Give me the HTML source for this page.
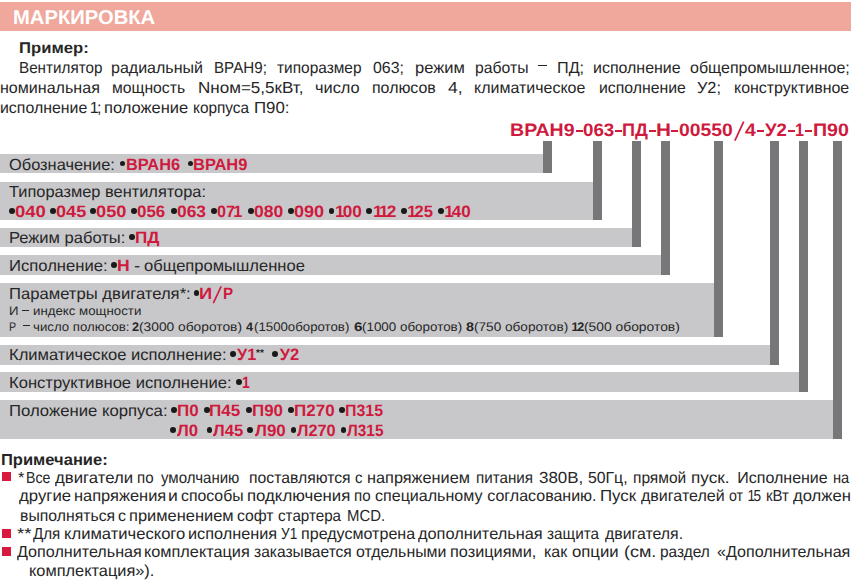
<!DOCTYPE html>
<html lang="ru">
<head>
<meta charset="utf-8">
<title>Маркировка</title>
<style>
html,body{margin:0;padding:0;background:#fff}
body{width:863px;height:587px;position:relative;overflow:hidden;font-family:"Liberation Sans",sans-serif;color:#262626;text-rendering:geometricPrecision}
.r{position:absolute}
.t{position:absolute;line-height:1;white-space:pre;transform-origin:0 0}
.b{font-weight:bold}
i{font-style:normal;margin:0 -0.11em}
</style>
</head>
<body>
<div class="r" style="left:0px;top:2px;width:851px;height:28.7px;background:#f0a79c"></div>
<div class="r" style="left:0px;top:154px;width:543px;height:19.4px;background:#c8c8ca"></div>
<div class="r" style="left:0px;top:181.8px;width:593px;height:38.2px;background:#c8c8ca"></div>
<div class="r" style="left:0px;top:228px;width:632px;height:19.4px;background:#c8c8ca"></div>
<div class="r" style="left:0px;top:255.2px;width:661px;height:19.6px;background:#c8c8ca"></div>
<div class="r" style="left:0px;top:283px;width:714px;height:53.7px;background:#c8c8ca"></div>
<div class="r" style="left:0px;top:345.1px;width:770px;height:19.6px;background:#c8c8ca"></div>
<div class="r" style="left:0px;top:372.3px;width:799px;height:19.7px;background:#c8c8ca"></div>
<div class="r" style="left:0px;top:400.2px;width:833px;height:38.6px;background:#c8c8ca"></div>
<div class="r" style="left:543px;top:140.8px;width:9.1px;height:32.6px;background:#77777a"></div>
<div class="r" style="left:593.1px;top:140.8px;width:9.2px;height:79.2px;background:#77777a"></div>
<div class="r" style="left:632.1px;top:140.8px;width:9.2px;height:106.6px;background:#77777a"></div>
<div class="r" style="left:661.1px;top:140.8px;width:9.2px;height:134px;background:#77777a"></div>
<div class="r" style="left:714px;top:140.8px;width:9.1px;height:195.9px;background:#77777a"></div>
<div class="r" style="left:769.8px;top:140.8px;width:9.1px;height:223.9px;background:#77777a"></div>
<div class="r" style="left:799.1px;top:140.8px;width:9.1px;height:251.2px;background:#77777a"></div>
<div class="r" style="left:833.1px;top:140.8px;width:9px;height:298px;background:#77777a"></div>
<div class="r" style="left:2.2px;top:472.3px;width:8.7px;height:9.2px;background:#d9183d"></div>
<div class="r" style="left:2.2px;top:529px;width:8.7px;height:9.2px;background:#d9183d"></div>
<div class="r" style="left:2.2px;top:547.1px;width:8.7px;height:9.2px;background:#d9183d"></div>
<div class="r" style="left:537.7px;top:65px;width:9.6px;height:1.4px;background:#262626"></div>
<div class="r" style="left:575.5px;top:129.5px;width:7.1px;height:2.1px;background:#cf1a3e"></div>
<div class="r" style="left:614.9px;top:129.5px;width:6.9px;height:2.1px;background:#cf1a3e"></div>
<div class="r" style="left:648.9px;top:129.5px;width:6.7px;height:2.1px;background:#cf1a3e"></div>
<div class="r" style="left:671.3px;top:129.5px;width:6.8px;height:2.1px;background:#cf1a3e"></div>
<div class="r" style="left:757.4px;top:129.5px;width:6.9px;height:2.1px;background:#cf1a3e"></div>
<div class="r" style="left:788.3px;top:129.5px;width:6.6px;height:2.1px;background:#cf1a3e"></div>
<div class="r" style="left:805.4px;top:129.5px;width:6.6px;height:2.1px;background:#cf1a3e"></div>
<div class="r" style="left:21.8px;top:309.5px;width:7px;height:1.3px;background:#262626"></div>
<div class="r" style="left:23px;top:324.7px;width:7px;height:1.3px;background:#262626"></div>
<div class="r" style="left:119.6px;top:160.6px;width:5.8px;height:5.8px;border-radius:50%;background:#1a1a1a"></div>
<div class="r" style="left:187.6px;top:160.6px;width:5.8px;height:5.8px;border-radius:50%;background:#1a1a1a"></div>
<div class="r" style="left:9px;top:207.8px;width:5.8px;height:5.8px;border-radius:50%;background:#1a1a1a"></div>
<div class="r" style="left:50.1px;top:207.8px;width:5.8px;height:5.8px;border-radius:50%;background:#1a1a1a"></div>
<div class="r" style="left:90.4px;top:207.8px;width:5.8px;height:5.8px;border-radius:50%;background:#1a1a1a"></div>
<div class="r" style="left:131.3px;top:207.8px;width:5.8px;height:5.8px;border-radius:50%;background:#1a1a1a"></div>
<div class="r" style="left:171.1px;top:207.8px;width:5.8px;height:5.8px;border-radius:50%;background:#1a1a1a"></div>
<div class="r" style="left:211.3px;top:207.8px;width:5.8px;height:5.8px;border-radius:50%;background:#1a1a1a"></div>
<div class="r" style="left:247.8px;top:207.8px;width:5.8px;height:5.8px;border-radius:50%;background:#1a1a1a"></div>
<div class="r" style="left:288.3px;top:207.8px;width:5.8px;height:5.8px;border-radius:50%;background:#1a1a1a"></div>
<div class="r" style="left:328.7px;top:207.8px;width:5.8px;height:5.8px;border-radius:50%;background:#1a1a1a"></div>
<div class="r" style="left:366.2px;top:207.8px;width:5.8px;height:5.8px;border-radius:50%;background:#1a1a1a"></div>
<div class="r" style="left:401.2px;top:207.8px;width:5.8px;height:5.8px;border-radius:50%;background:#1a1a1a"></div>
<div class="r" style="left:438.3px;top:207.8px;width:5.8px;height:5.8px;border-radius:50%;background:#1a1a1a"></div>
<div class="r" style="left:129.25px;top:234.2px;width:5.8px;height:5.8px;border-radius:50%;background:#1a1a1a"></div>
<div class="r" style="left:111.3px;top:261.8px;width:5.8px;height:5.8px;border-radius:50%;background:#1a1a1a"></div>
<div class="r" style="left:193.6px;top:290.3px;width:5.8px;height:5.8px;border-radius:50%;background:#1a1a1a"></div>
<div class="r" style="left:230.15px;top:350.8px;width:5.8px;height:5.8px;border-radius:50%;background:#1a1a1a"></div>
<div class="r" style="left:272.35px;top:350.8px;width:5.8px;height:5.8px;border-radius:50%;background:#1a1a1a"></div>
<div class="r" style="left:236.1px;top:379.1px;width:5.8px;height:5.8px;border-radius:50%;background:#1a1a1a"></div>
<div class="r" style="left:170.95px;top:407.2px;width:5.8px;height:5.8px;border-radius:50%;background:#1a1a1a"></div>
<div class="r" style="left:203.75px;top:407.2px;width:5.8px;height:5.8px;border-radius:50%;background:#1a1a1a"></div>
<div class="r" style="left:246.05px;top:407.2px;width:5.8px;height:5.8px;border-radius:50%;background:#1a1a1a"></div>
<div class="r" style="left:287.75px;top:407.2px;width:5.8px;height:5.8px;border-radius:50%;background:#1a1a1a"></div>
<div class="r" style="left:339.25px;top:407.2px;width:5.8px;height:5.8px;border-radius:50%;background:#1a1a1a"></div>
<div class="r" style="left:170.45px;top:427px;width:5.8px;height:5.8px;border-radius:50%;background:#1a1a1a"></div>
<div class="r" style="left:206.55px;top:427px;width:5.8px;height:5.8px;border-radius:50%;background:#1a1a1a"></div>
<div class="r" style="left:247.45px;top:427px;width:5.8px;height:5.8px;border-radius:50%;background:#1a1a1a"></div>
<div class="r" style="left:290.55px;top:427px;width:5.8px;height:5.8px;border-radius:50%;background:#1a1a1a"></div>
<div class="r" style="left:340.65px;top:427px;width:5.8px;height:5.8px;border-radius:50%;background:#1a1a1a"></div>
<svg class="r" style="left:0;top:0" width="863" height="587" viewBox="0 0 863 587"><line x1="734.9" y1="140.6" x2="743.7" y2="121.7" stroke="#cf1a3e" stroke-width="1.7"/><line x1="213.3" y1="303.2" x2="221.2" y2="286.3" stroke="#cf1a3e" stroke-width="1.6"/></svg>
<span class="t b" style="left:13.14px;top:8px;font-size:20px;transform:scaleX(1.0101);color:#ffffff">МАРКИРОВКА</span>
<span class="t b" style="left:18.63px;top:41px;font-size:15.5px;transform:scaleX(1.0747)">Пример:</span>
<span class="t" style="left:19.01px;top:61px;font-size:16px;transform:scaleX(0.9516)">Вентилятор</span>
<span class="t" style="left:111px;top:61px;font-size:16px;transform:scaleX(1.0006)">радиальный</span>
<span class="t" style="left:214.42px;top:61px;font-size:16px;transform:scaleX(0.9465)">ВРАН9;</span>
<span class="t" style="left:277.36px;top:61px;font-size:16px;transform:scaleX(0.9648)">типоразмер</span>
<span class="t" style="left:372.76px;top:61px;font-size:16px;transform:scaleX(0.9931)">063;</span>
<span class="t" style="left:415.47px;top:61px;font-size:16px;transform:scaleX(1.0314)">режим</span>
<span class="t" style="left:474.62px;top:61px;font-size:16px;transform:scaleX(0.9837)">работы</span>
<span class="t" style="left:556.73px;top:61px;font-size:16px;transform:scaleX(1.0125)">ПД;</span>
<span class="t" style="left:593.3px;top:61px;font-size:16px;transform:scaleX(0.9971)">исполнение</span>
<span class="t" style="left:689.65px;top:61px;font-size:16px;transform:scaleX(0.9990)">общепромышленное;</span>
<span class="t" style="left:-0.1px;top:81px;font-size:16px;transform:scaleX(1.0036)">номинальная</span>
<span class="t" style="left:111.62px;top:81px;font-size:16px;transform:scaleX(0.9814)">мощность</span>
<span class="t" style="left:198.17px;top:81px;font-size:16px;transform:scaleX(1.0649)">Nном=5,5кВт,</span>
<span class="t" style="left:314.98px;top:81px;font-size:16px;transform:scaleX(1.0238)">число</span>
<span class="t" style="left:371.5px;top:81px;font-size:16px;transform:scaleX(0.9952)">полюсов</span>
<span class="t" style="left:447.73px;top:81px;font-size:16px;transform:scaleX(1.0979)">4,</span>
<span class="t" style="left:474px;top:81px;font-size:16px;transform:scaleX(0.9986)">климатическое</span>
<span class="t" style="left:598.91px;top:81px;font-size:16px;transform:scaleX(0.9890)">исполнение</span>
<span class="t" style="left:697.29px;top:81px;font-size:16px;transform:scaleX(1.0186)">У2;</span>
<span class="t" style="left:734.1px;top:81px;font-size:16px;transform:scaleX(0.9969)">конструктивное</span>
<span class="t" style="left:-0.09px;top:101px;font-size:16px;transform:scaleX(0.9925)">исполнение</span>
<span class="t" style="left:91.5px;top:101px;font-size:16px;transform:scaleX(1.0000)"><i>1</i>;</span>
<span class="t" style="left:104.37px;top:101px;font-size:16px;transform:scaleX(1.0300)">положение</span>
<span class="t" style="left:193.04px;top:101px;font-size:16px;transform:scaleX(0.9607)">корпуса</span>
<span class="t" style="left:253.69px;top:101px;font-size:16px;transform:scaleX(1.0516)">П90:</span>
<span class="t b" style="left:509.94px;top:121px;font-size:18px;transform:scaleX(1.0870);color:#cf1a3e">ВРАН9</span>
<span class="t b" style="left:583.02px;top:121px;font-size:18px;transform:scaleX(1.0421);color:#cf1a3e">063</span>
<span class="t b" style="left:622.24px;top:121px;font-size:18px;transform:scaleX(1.0062);color:#cf1a3e">ПД</span>
<span class="t b" style="left:656.26px;top:121px;font-size:18px;transform:scaleX(1.1524);color:#cf1a3e">Н</span>
<span class="t b" style="left:678.79px;top:121px;font-size:18px;transform:scaleX(1.0742);color:#cf1a3e">00550</span>
<span class="t b" style="left:745.03px;top:121px;font-size:18px;transform:scaleX(1.0872);color:#cf1a3e">4</span>
<span class="t b" style="left:765.44px;top:121px;font-size:18px;transform:scaleX(1.0321);color:#cf1a3e">У2</span>
<span class="t b" style="left:795.36px;top:121px;font-size:18px;transform:scaleX(0.9000);color:#cf1a3e">1</span>
<span class="t b" style="left:812.94px;top:121px;font-size:18px;transform:scaleX(1.0903);color:#cf1a3e">П90</span>
<span class="t" style="left:8.53px;top:158px;font-size:16px;transform:scaleX(1.0242)">Обозначение:</span>
<span class="t b" style="left:125.71px;top:157px;font-size:16.5px;transform:scaleX(0.9925);color:#cf1a3e">ВРАН6</span>
<span class="t b" style="left:193.3px;top:157px;font-size:16.5px;transform:scaleX(0.9991);color:#cf1a3e">ВРАН9</span>
<span class="t" style="left:9.34px;top:185px;font-size:16px;transform:scaleX(1.0239)">Типоразмер вентилятора:</span>
<span class="t b" style="left:14.96px;top:204px;font-size:16.5px;transform:scaleX(1.1231);color:#cf1a3e">040</span>
<span class="t b" style="left:55.68px;top:204px;font-size:16.5px;transform:scaleX(1.0971);color:#cf1a3e">045</span>
<span class="t b" style="left:96.47px;top:204px;font-size:16.5px;transform:scaleX(1.1038);color:#cf1a3e">050</span>
<span class="t b" style="left:137.13px;top:204px;font-size:16.5px;transform:scaleX(1.0248);color:#cf1a3e">056</span>
<span class="t b" style="left:176.81px;top:204px;font-size:16.5px;transform:scaleX(1.0552);color:#cf1a3e">063</span>
<span class="t b" style="left:217.07px;top:204px;font-size:16.5px;transform:scaleX(0.9796);color:#cf1a3e">07<i>1</i></span>
<span class="t b" style="left:253.5px;top:204px;font-size:16.5px;transform:scaleX(1.0615);color:#cf1a3e">080</span>
<span class="t b" style="left:294.28px;top:204px;font-size:16.5px;transform:scaleX(1.0962);color:#cf1a3e">090</span>
<span class="t b" style="left:336.88px;top:204px;font-size:16.5px;transform:scaleX(1.0417);color:#cf1a3e"><i>1</i>00</span>
<span class="t b" style="left:374.69px;top:204px;font-size:16.5px;transform:scaleX(1.0488);color:#cf1a3e"><i>1</i><i>1</i>2</span>
<span class="t b" style="left:409.35px;top:204px;font-size:16.5px;transform:scaleX(1.0062);color:#cf1a3e"><i>1</i>25</span>
<span class="t b" style="left:446.48px;top:204px;font-size:16.5px;transform:scaleX(1.0333);color:#cf1a3e"><i>1</i>40</span>
<span class="t" style="left:8.81px;top:231px;font-size:16px;transform:scaleX(1.0333)">Режим работы:</span>
<span class="t b" style="left:135.37px;top:230px;font-size:16.5px;transform:scaleX(1.0337);color:#cf1a3e">ПД</span>
<span class="t" style="left:8.5px;top:259px;font-size:16px;transform:scaleX(1.0396)">Исполнение:</span>
<span class="t b" style="left:116.93px;top:258px;font-size:16.5px;transform:scaleX(1.0667);color:#cf1a3e">Н</span>
<span class="t" style="left:134.42px;top:259px;font-size:16px;transform:scaleX(1.1733)">-</span>
<span class="t" style="left:143.82px;top:259px;font-size:16px;transform:scaleX(1.0351)">общепромышленное</span>
<span class="t" style="left:8.9px;top:287px;font-size:16px;transform:scaleX(1.0401)">Параметры двигателя*:</span>
<span class="t b" style="left:199.19px;top:286px;font-size:16.5px;transform:scaleX(1.1077);color:#cf1a3e">И</span>
<span class="t b" style="left:222.68px;top:286px;font-size:16.5px;transform:scaleX(0.9158);color:#cf1a3e">Р</span>
<span class="t" style="left:8.74px;top:305px;font-size:12.5px;transform:scaleX(1.0571)">И</span>
<span class="t" style="left:32.5px;top:305px;font-size:12.5px;transform:scaleX(1.0607)">индекс мощности</span>
<span class="t" style="left:8.63px;top:321px;font-size:12.5px;transform:scaleX(0.8500)">Р</span>
<span class="t" style="left:32.51px;top:321px;font-size:12.5px;transform:scaleX(1.0577)">число полюсов:</span>
<span class="t b" style="left:132.49px;top:321px;font-size:12.5px;transform:scaleX(1.0167)">2</span>
<span class="t" style="left:139.07px;top:321px;font-size:12.5px;transform:scaleX(1.1022)">(3000 оборотов)</span>
<span class="t b" style="left:246.35px;top:321px;font-size:12.5px;transform:scaleX(1.0074)">4</span>
<span class="t" style="left:253.91px;top:321px;font-size:12.5px;transform:scaleX(1.0588)">(1500оборотов)</span>
<span class="t b" style="left:354.39px;top:321px;font-size:12.5px;transform:scaleX(1.2167)">6</span>
<span class="t" style="left:362.3px;top:321px;font-size:12.5px;transform:scaleX(1.0717)">(1000 оборотов)</span>
<span class="t b" style="left:466.32px;top:321px;font-size:12.5px;transform:scaleX(1.1500)">8</span>
<span class="t" style="left:473.78px;top:321px;font-size:12.5px;transform:scaleX(1.0882)">(750 оборотов)</span>
<span class="t b" style="left:572.5px;top:321px;font-size:12.5px;transform:scaleX(1.0044)"><i>1</i>2</span>
<span class="t" style="left:583.67px;top:321px;font-size:12.5px;transform:scaleX(1.1071)">(500 оборотов)</span>
<span class="t" style="left:8.91px;top:348px;font-size:16px;transform:scaleX(1.0339)">Климатическое исполнение:</span>
<span class="t b" style="left:237.05px;top:347px;font-size:16.5px;transform:scaleX(0.9867);color:#cf1a3e">У1</span>
<span class="t b" style="left:255.8px;top:349px;font-size:10px;transform:scaleX(1.0065);color:#1a1a1a">**</span>
<span class="t b" style="left:279.75px;top:347px;font-size:16.5px;transform:scaleX(1.0000);color:#cf1a3e">У2</span>
<span class="t" style="left:8.9px;top:376px;font-size:16px;transform:scaleX(1.0375)">Конструктивное исполнение:</span>
<span class="t b" style="left:241.51px;top:375px;font-size:16.5px;transform:scaleX(0.8500);color:#cf1a3e">1</span>
<span class="t" style="left:8.79px;top:404px;font-size:16px;transform:scaleX(1.0443)">Положение корпуса:</span>
<span class="t b" style="left:177.27px;top:403px;font-size:16.5px;transform:scaleX(1.0286);color:#cf1a3e">П0</span>
<span class="t b" style="left:209.07px;top:403px;font-size:16.5px;transform:scaleX(1.0330);color:#cf1a3e">П45</span>
<span class="t b" style="left:252.18px;top:403px;font-size:16.5px;transform:scaleX(1.0246);color:#cf1a3e">П90</span>
<span class="t b" style="left:293.87px;top:403px;font-size:16.5px;transform:scaleX(1.0305);color:#cf1a3e">П270</span>
<span class="t b" style="left:344.83px;top:403px;font-size:16.5px;transform:scaleX(0.9658);color:#cf1a3e">П315</span>
<span class="t b" style="left:176.7px;top:423px;font-size:16.5px;transform:scaleX(1.0150);color:#cf1a3e">Л0</span>
<span class="t b" style="left:212.8px;top:423px;font-size:16.5px;transform:scaleX(1.0102);color:#cf1a3e">Л45</span>
<span class="t b" style="left:254.5px;top:423px;font-size:16.5px;transform:scaleX(1.0291);color:#cf1a3e">Л90</span>
<span class="t b" style="left:297.1px;top:423px;font-size:16.5px;transform:scaleX(0.9896);color:#cf1a3e">Л270</span>
<span class="t b" style="left:347.2px;top:423px;font-size:16.5px;transform:scaleX(0.9316);color:#cf1a3e">Л315</span>
<span class="t b" style="left:0.77px;top:453px;font-size:16px;transform:scaleX(1.0323)">Примечание:</span>
<span class="t" style="left:18.44px;top:471px;font-size:16px;transform:scaleX(1.0261)">*</span>
<span class="t" style="left:26.4px;top:471px;font-size:16px;transform:scaleX(0.8824)">Все</span>
<span class="t" style="left:55.14px;top:471px;font-size:16px;transform:scaleX(1.0457)">двигатели</span>
<span class="t" style="left:136.86px;top:471px;font-size:16px;transform:scaleX(0.9437)">по</span>
<span class="t" style="left:160.6px;top:471px;font-size:16px;transform:scaleX(0.9402)">умолчанию</span>
<span class="t" style="left:248.82px;top:471px;font-size:16px;transform:scaleX(0.9842)">поставляются</span>
<span class="t" style="left:354.6px;top:471px;font-size:16px;transform:scaleX(0.9333)">с</span>
<span class="t" style="left:367.18px;top:471px;font-size:16px;transform:scaleX(1.0182)">напряжением</span>
<span class="t" style="left:475.55px;top:471px;font-size:16px;transform:scaleX(0.9500)">питания</span>
<span class="t" style="left:538.71px;top:471px;font-size:16px;transform:scaleX(1.0591)">380В,</span>
<span class="t" style="left:588.06px;top:471px;font-size:16px;transform:scaleX(0.9868)">50Гц,</span>
<span class="t" style="left:633.13px;top:471px;font-size:16px;transform:scaleX(0.9706)">прямой</span>
<span class="t" style="left:691.43px;top:471px;font-size:16px;transform:scaleX(1.0716)">пуск.</span>
<span class="t" style="left:737.25px;top:471px;font-size:16px;transform:scaleX(1.0000)">Исполнение</span>
<span class="t" style="left:833.08px;top:471px;font-size:16px;transform:scaleX(0.9194)">на</span>
<span class="t" style="left:19.24px;top:489px;font-size:16px;transform:scaleX(1.0482)">другие</span>
<span class="t" style="left:73.57px;top:489px;font-size:16px;transform:scaleX(1.0268)">напряжения</span>
<span class="t" style="left:167.9px;top:489px;font-size:16px;transform:scaleX(1.0963)">и</span>
<span class="t" style="left:180.76px;top:489px;font-size:16px;transform:scaleX(0.9886)">способы</span>
<span class="t" style="left:247.35px;top:489px;font-size:16px;transform:scaleX(1.0494)">подключения</span>
<span class="t" style="left:354.36px;top:489px;font-size:16px;transform:scaleX(0.9437)">по</span>
<span class="t" style="left:374.65px;top:489px;font-size:16px;transform:scaleX(1.0033)">специальному</span>
<span class="t" style="left:487.25px;top:489px;font-size:16px;transform:scaleX(1.0000)">согласованию.</span>
<span class="t" style="left:600.49px;top:489px;font-size:16px;transform:scaleX(1.0515)">Пуск</span>
<span class="t" style="left:640.55px;top:489px;font-size:16px;transform:scaleX(1.0018)">двигателей</span>
<span class="t" style="left:728.53px;top:489px;font-size:16px;transform:scaleX(0.8881)">от</span>
<span class="t" style="left:749.27px;top:489px;font-size:16px;transform:scaleX(0.8500)"><i>1</i>5</span>
<span class="t" style="left:765.86px;top:489px;font-size:16px;transform:scaleX(0.9376)">кВт</span>
<span class="t" style="left:792.74px;top:489px;font-size:16px;transform:scaleX(1.0396)">должен</span>
<span class="t" style="left:19.61px;top:509px;font-size:16px;transform:scaleX(0.9867)">выполняться</span>
<span class="t" style="left:117.56px;top:509px;font-size:16px;transform:scaleX(0.9926)">с</span>
<span class="t" style="left:129.37px;top:509px;font-size:16px;transform:scaleX(1.0276)">применением</span>
<span class="t" style="left:237.46px;top:509px;font-size:16px;transform:scaleX(0.9821)">софт</span>
<span class="t" style="left:278.29px;top:509px;font-size:16px;transform:scaleX(0.9490)">стартера</span>
<span class="t" style="left:346.84px;top:509px;font-size:16px;transform:scaleX(0.9307)">MCD.</span>
<span class="t" style="left:17.31px;top:527px;font-size:16px;transform:scaleX(1.1667)">**</span>
<span class="t" style="left:33.1px;top:527px;font-size:16px;transform:scaleX(0.9477)">Для</span>
<span class="t" style="left:64.26px;top:527px;font-size:16px;transform:scaleX(1.0369)">климатического</span>
<span class="t" style="left:188.18px;top:527px;font-size:16px;transform:scaleX(1.0175)">исполнения</span>
<span class="t" style="left:280.93px;top:527px;font-size:16px;transform:scaleX(0.8500)">У1</span>
<span class="t" style="left:300.5px;top:527px;font-size:16px;transform:scaleX(1.0040)">предусмотрена</span>
<span class="t" style="left:418.14px;top:527px;font-size:16px;transform:scaleX(1.0211)">дополнительная</span>
<span class="t" style="left:546.92px;top:527px;font-size:16px;transform:scaleX(0.9574)">защита</span>
<span class="t" style="left:605.25px;top:527px;font-size:16px;transform:scaleX(0.9909)">двигателя.</span>
<span class="t" style="left:16.8px;top:545px;font-size:16px;transform:scaleX(1.0077)">Дополнительная</span>
<span class="t" style="left:144.18px;top:545px;font-size:16px;transform:scaleX(1.0172)">комплектация</span>
<span class="t" style="left:253.81px;top:545px;font-size:16px;transform:scaleX(0.9727)">заказывается</span>
<span class="t" style="left:356.15px;top:545px;font-size:16px;transform:scaleX(0.9938)">отдельными</span>
<span class="t" style="left:450.48px;top:545px;font-size:16px;transform:scaleX(1.0170)">позициями,</span>
<span class="t" style="left:543.7px;top:545px;font-size:16px;transform:scaleX(1.0022)">как</span>
<span class="t" style="left:572.42px;top:545px;font-size:16px;transform:scaleX(1.0456)">опции</span>
<span class="t" style="left:623.58px;top:545px;font-size:16px;transform:scaleX(1.1238)">(см.</span>
<span class="t" style="left:659.64px;top:545px;font-size:16px;transform:scaleX(0.9636)">раздел</span>
<span class="t" style="left:717.35px;top:545px;font-size:16px;transform:scaleX(1.0042)">«Дополнительная</span>
<span class="t" style="left:28.98px;top:564px;font-size:16px;transform:scaleX(1.0220)">комплектация»).</span>
</body>
</html>
